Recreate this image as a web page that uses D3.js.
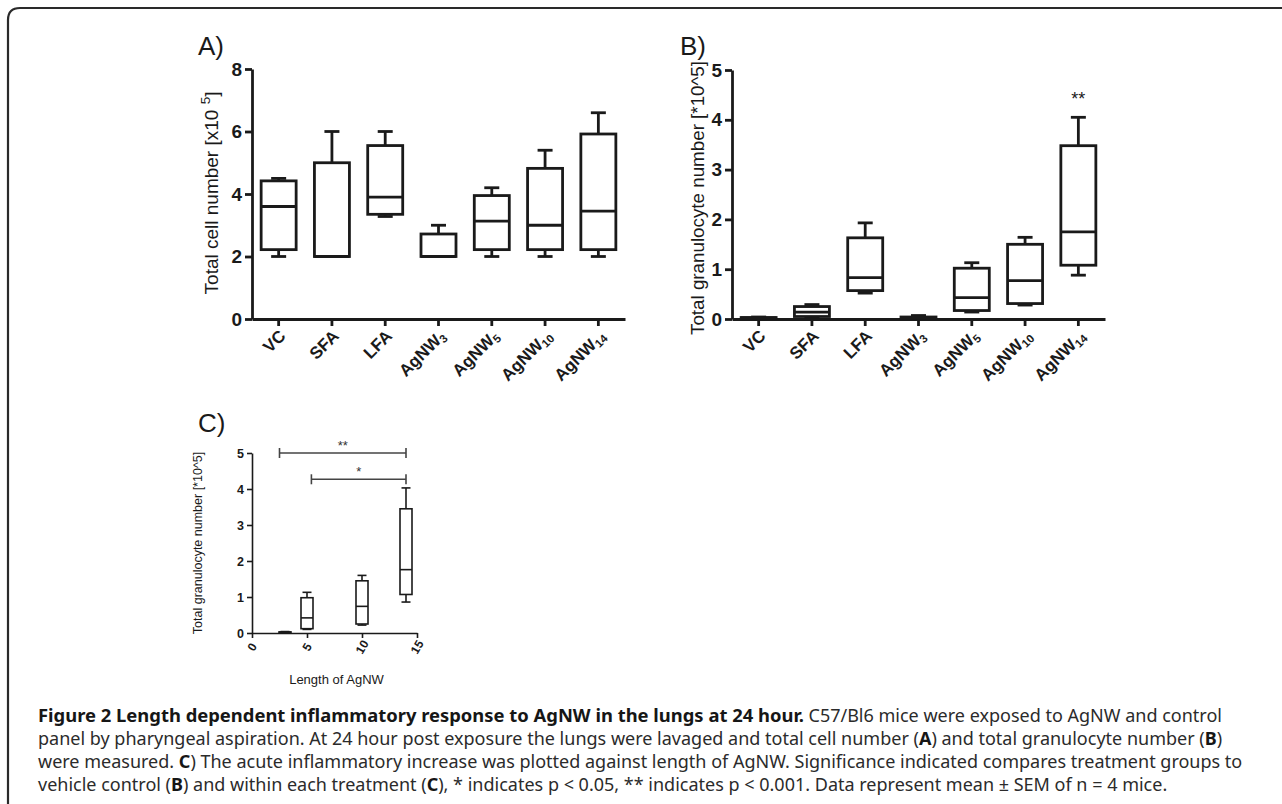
<!DOCTYPE html>
<html><head><meta charset="utf-8">
<script src="https://cdn.jsdelivr.net/npm/d3@7"></script>
<style>body{margin:0;background:#fff;} svg{display:block;}</style>
</head><body>
<svg id="fig" width="1282" height="804"></svg>
<script>
// ---------- data ----------
const categories = ["VC","SFA","LFA","AgNW3","AgNW5","AgNW10","AgNW14"];
const catBase = ["VC","SFA","LFA","AgNW","AgNW","AgNW","AgNW"];
const catSub  = ["","","","3","5","10","14"];

// Panel A: total cell number [x10^5]
const aMin = [2.0, 2.0, 3.28, 2.0, 2.0, 2.0, 2.0];
const aQ1  = [2.22,2.0, 3.35, 2.0, 2.22,2.22,2.22];
const aMed = [3.6, 2.0, 3.9,  2.0, 3.13,3.0, 3.45];
const aQ3  = [4.42,5.0, 5.55, 2.72,3.95,4.82,5.92];
const aMax = [4.5, 6.0, 6.0,  3.0, 4.2, 5.4, 6.6];
const aTicks = [0,2,4,6,8];

// Panel B: total granulocyte number [*10^5]
const bMin = [0.0, 0.03,0.52,0.01,0.14,0.28,0.88];
const bQ1  = [0.01,0.05,0.57,0.02,0.17,0.31,1.08];
const bMed = [0.02,0.14,0.83,0.03,0.43,0.77,1.75];
const bQ3  = [0.03,0.25,1.63,0.04,1.02,1.50,3.48];
const bMax = [0.04,0.29,1.93,0.07,1.13,1.64,4.05];
const bTicks = [0,1,2,3,4,5];
const bSig = ["","","","","","","**"];

// Panel C: granulocytes vs length of AgNW
const cLength = [3,5,10,14];
const cMin = [0.01,0.10,0.22,0.86];
const cQ1  = [0.02,0.12,0.25,1.07];
const cMed = [0.02,0.42,0.74,1.76];
const cQ3  = [0.03,0.98,1.45,3.45];
const cMax = [0.04,1.13,1.60,4.03];
const cTicksY = [0,1,2,3,4,5];
const cTicksX = [0,5,10,15];
const sigFrom  = [2.5, 5.4];
const sigTo    = [14, 14];
const sigLevel = [5.0, 4.27];
const sigLabel = ["**","*"];

// ---------- drawing ----------
const svg = d3.select("#fig");
const FONT = "'Liberation Sans', Arial, sans-serif";
const INK = "#1a1a1a";

// frame
svg.append("path")
  .attr("d","M8,804 V20 Q8,8 20,8 H1282")
  .attr("fill","none").attr("stroke","#2a2a2a").attr("stroke-width",2.2);

function styleAxis(g, sw, fs){
  g.select(".domain").attr("stroke",INK).attr("stroke-width",sw);
  g.selectAll(".tick line").attr("stroke",INK).attr("stroke-width",sw);
  g.selectAll(".tick text").attr("fill",INK).attr("font-family",FONT)
    .attr("font-weight","bold").attr("font-size",fs);
}

function drawBoxes(g, xs, y, mn, q1, md, q3, mx, bw, cw, sw){
  xs.forEach((x,i)=>{
    const gg = g.append("g").attr("fill","none").attr("stroke",INK).attr("stroke-width",sw);
    gg.append("line").attr("x1",x).attr("x2",x).attr("y1",y(q3[i])).attr("y2",y(mx[i]));
    gg.append("line").attr("x1",x).attr("x2",x).attr("y1",y(q1[i])).attr("y2",y(mn[i]));
    gg.append("line").attr("x1",x-cw/2).attr("x2",x+cw/2).attr("y1",y(mx[i])).attr("y2",y(mx[i]));
    gg.append("line").attr("x1",x-cw/2).attr("x2",x+cw/2).attr("y1",y(mn[i])).attr("y2",y(mn[i]));
    gg.append("rect").attr("x",x-bw/2).attr("width",bw)
      .attr("y",y(q3[i])).attr("height",Math.max(0,y(q1[i])-y(q3[i])));
    gg.append("line").attr("x1",x-bw/2).attr("x2",x+bw/2).attr("y1",y(md[i])).attr("y2",y(md[i]));
  });
}

function categoryPanel(opts){
  const x = d3.scaleBand().domain(categories).range([opts.x0, opts.x1]).padding(0);
  const y = d3.scaleLinear().domain(opts.ydom).range([opts.yb, opts.yt]);
  const g = svg.append("g");
  const ya = g.append("g").attr("transform",`translate(${opts.x0},0)`)
    .call(d3.axisLeft(y).tickValues(opts.ticks).tickSize(7).tickSizeOuter(0).tickPadding(3).tickFormat(d3.format("d")));
  styleAxis(ya, 2.8, 19);
  const xa = g.append("g").attr("transform",`translate(0,${opts.yb})`)
    .call(d3.axisBottom(x).tickSize(7).tickSizeOuter(0).tickFormat(""));
  styleAxis(xa, 2.8, 16);
  categories.forEach((c,i)=>{
    const cx = x(c) + x.bandwidth()/2;
    const t = g.append("text")
      .attr("transform",`translate(${cx-1},${opts.yb+9}) rotate(-45)`)
      .attr("text-anchor","end").attr("dy","0.75em")
      .attr("font-family",FONT).attr("font-weight","bold").attr("font-size",17).attr("fill",INK);
    t.append("tspan").text(catBase[i]);
    if (catSub[i]) t.append("tspan").attr("font-size",11.5).attr("dy",3).text(catSub[i]);
  });
  const xs = categories.map(c => x(c) + x.bandwidth()/2);
  drawBoxes(g, xs, y, opts.mn, opts.q1, opts.md, opts.q3, opts.mx, 35, 15, 2.8);
  const yt = g.append("text")
    .attr("transform",`translate(${opts.titleX},${opts.titleY}) rotate(-90)`)
    .attr("text-anchor","middle").attr("font-family",FONT).attr("font-size",opts.titleSize).attr("fill",INK);
  opts.title(yt);
  g.append("text").attr("x",opts.letterX).attr("y",55).attr("font-family",FONT)
    .attr("font-size",26).attr("fill",INK).text(opts.letter);
  return {x,y,g,xs};
}

const A = categoryPanel({
  x0:252, x1:625, yb:319, yt:69, ydom:[0,8], ticks:aTicks,
  mn:aMin, q1:aQ1, md:aMed, q3:aQ3, mx:aMax,
  titleX:218, titleY:193, titleSize:19, letterX:198, letter:"A)",
  title: t => { t.append("tspan").text("Total cell number [x10 ");
                t.append("tspan").attr("font-size",13.5).attr("dy",-8).text("5");
                t.append("tspan").attr("dy",8).text("]"); }
});

const B = categoryPanel({
  x0:732, x1:1105, yb:319, yt:70, ydom:[0,5], ticks:bTicks,
  mn:bMin, q1:bQ1, md:bMed, q3:bQ3, mx:bMax,
  titleX:704, titleY:198, titleSize:18.8, letterX:680, letter:"B)",
  title: t => t.text("Total granulocyte number [*10^5]")
});
B.xs.forEach((cx,i)=>{
  if (!bSig[i]) return;
  B.g.append("text").attr("x",cx).attr("y",B.y(bMax[i])-12).attr("text-anchor","middle")
    .attr("font-family",FONT).attr("font-size",18).attr("fill",INK).text(bSig[i]);
});

// Panel C
const xC = d3.scaleLinear().domain([0,15]).range([252,417]);
const yC = d3.scaleLinear().domain([0,5]).range([633,453]);
const gC = svg.append("g");
const yaC = gC.append("g").attr("transform","translate(252,0)")
  .call(d3.axisLeft(yC).tickValues(cTicksY).tickSize(5).tickSizeOuter(0).tickPadding(3).tickFormat(d3.format("d")));
styleAxis(yaC, 1.6, 12.5);
const xaC = gC.append("g").attr("transform","translate(0,633)")
  .call(d3.axisBottom(xC).tickValues(cTicksX).tickSize(5).tickSizeOuter(0).tickFormat(""));
styleAxis(xaC, 1.6, 12);
cTicksX.forEach(v=>{
  gC.append("text").attr("transform",`translate(${xC(v)},${647}) rotate(-60)`)
    .attr("text-anchor","middle").attr("dy","0.35em")
    .attr("font-family",FONT).attr("font-weight","bold").attr("font-size",12).attr("fill",INK)
    .text(v);
});
drawBoxes(gC, cLength.map(v=>xC(v)), yC, cMin, cQ1, cMed, cQ3, cMax, 12, 9, 1.6);
gC.append("text").attr("transform",`translate(202,543) rotate(-90)`)
  .attr("text-anchor","middle").attr("font-family",FONT).attr("font-size",12.5).attr("fill",INK)
  .text("Total granulocyte number [*10^5]");
gC.append("text").attr("x",(xC(0)+xC(15))/2+2).attr("y",684).attr("text-anchor","middle")
  .attr("font-family",FONT).attr("font-size",13).attr("fill",INK).text("Length of AgNW");
gC.append("text").attr("x",198).attr("y",432).attr("font-family",FONT)
  .attr("font-size",26).attr("fill",INK).text("C)");
sigLevel.forEach((lv,i)=>{
  const yy = yC(lv), xa = xC(sigFrom[i]), xb = xC(sigTo[i]);
  const s = gC.append("g").attr("stroke","#444").attr("stroke-width",1.6);
  s.append("line").attr("x1",xa).attr("x2",xb).attr("y1",yy).attr("y2",yy);
  s.append("line").attr("x1",xa).attr("x2",xa).attr("y1",yy-5).attr("y2",yy+5);
  s.append("line").attr("x1",xb).attr("x2",xb).attr("y1",yy-5).attr("y2",yy+5);
  gC.append("text").attr("x",(xa+xb)/2).attr("y",yy-3).attr("text-anchor","middle")
    .attr("font-family",FONT).attr("font-size",13).attr("fill","#333").text(sigLabel[i]);
});

// caption
const CAP = "'Noto Sans', 'Open Sans', sans-serif";
const capLines = [
  [["b","Figure 2 Length dependent inflammatory response to AgNW in the lungs at 24 hour."],["n"," C57/Bl6 mice were exposed to AgNW and control"]],
  [["n","panel by pharyngeal aspiration. At 24 hour post exposure the lungs were lavaged and total cell number ("],["b","A"],["n",") and total granulocyte number ("],["b","B"],["n",")"]],
  [["n","were measured. "],["b","C"],["n",") The acute inflammatory increase was plotted against length of AgNW. Significance indicated compares treatment groups to"]],
  [["n","vehicle control ("],["b","B"],["n",") and within each treatment ("],["b","C"],["n","), * indicates p < 0.05, ** indicates p < 0.001. Data represent mean ± SEM of n = 4 mice."]]
];
const capY = [722, 745, 768, 791];
capLines.forEach((segs,li)=>{
  const t = svg.append("text").attr("x",38).attr("y",capY[li])
    .attr("font-family",CAP).attr("font-size",18).attr("fill","#2b2b2b")
    .attr("xml:space","preserve");
  segs.forEach(s=> t.append("tspan").attr("font-weight", s[0]==="b" ? "bold" : "normal")
    .attr("font-size", s[0]==="b" && li===0 ? 18.4 : 18)
    .attr("fill", s[0]==="b" ? "#161616" : "#2b2b2b").text(s[1]));
});
</script>
</body></html>
